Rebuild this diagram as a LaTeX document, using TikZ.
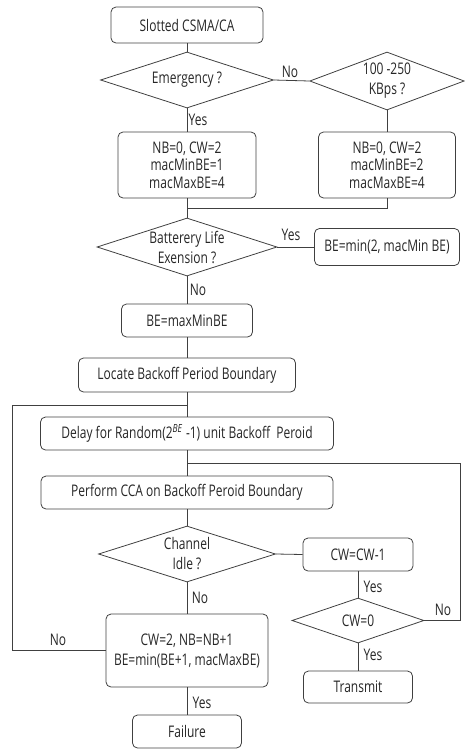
\documentclass[tikz,border=0pt]{standalone}
\usepackage{fontspec}
\setmainfont{Open Sans}[FakeStretch=0.75]
\usetikzlibrary{shapes.geometric}
\begin{document}
\begin{tikzpicture}[x=1pt, y=-1pt,
  font=\fontsize{16}{17.5}\selectfont,
  every node/.style={text=black!85},
  wire/.style={draw=black!75, line width=0.8pt},
  box/.style={wire, rectangle, rounded corners=5pt, inner sep=0pt, align=center},
  decide/.style={wire, diamond, inner sep=0pt, aspect=3, align=center},
  lbl/.style={inner sep=0pt},
  wide/.style={font=\fontsize{16}{20}\selectfont}]
\useasboundingbox (0,0) rectangle (464,750);

% main column
\node[box, minimum width=152, minimum height=36] (start) at (187,25) {Slotted CSMA/CA};
\node[decide, minimum width=173, minimum height=56] (emerg) at (187,80) {Emergency ?};
\node[decide, wide, minimum width=153, minimum height=58] (rate) at (387,81) {100 -250\\KBps ?};
\node[box, minimum width=138, minimum height=66] (init1) at (187,165)
  {NB=0, CW=2\\macMinBE=1\\macMaxBE=4};
\node[box, minimum width=137, minimum height=66] (init2) at (387,165)
  {NB=0, CW=2\\macMinBE=2\\macMaxBE=4};
\coordinate (join) at (187,208);
\node[decide, wide, minimum width=180, minimum height=58] (batt) at (187,247)
  {Batterery Life\\Exension ?};
\node[box, minimum width=145, minimum height=37] (bemin) at (387,247) {BE=min(2, macMin BE)};
\node[box, minimum width=131, minimum height=33] (bemax) at (187,320.5) {BE=maxMinBE};
\node[box, minimum width=217, minimum height=34] (locate) at (187,375) {Locate Backoff Period Boundary};
\node[box, minimum width=293, minimum height=33] (delay) at (187,433.5)
  {Delay for Random(2\textsuperscript{\textit{BE}} -1) unit Backoff~ Peroid};
\node[box, minimum width=292, minimum height=33] (cca) at (187,492.5) {Perform CCA on Backoff Peroid Boundary};
\node[decide, wide, minimum width=177, minimum height=56] (idle) at (187,554) {Channel\\Idle ?};
\node[box, minimum width=110, minimum height=33] (cwdec) at (358,554.5) {CW=CW-1};
\node[decide, minimum width=132, minimum height=45] (cwzero) at (358,620.5) {CW=0};
\node[box, wide, minimum width=162, minimum height=73] (retry) at (187,650.5)
  {CW=2, NB=NB+1\\BE=min(BE+1, macMaxBE)};
\node[box, minimum width=109, minimum height=33] (fail) at (187,731.5) {Failure};
\node[box, minimum width=109, minimum height=32] (tx) at (358,687) {Transmit};

\coordinate (loopL) at (12,405);
\coordinate (loopR) at (460,463);

% connectors
\draw[wire] (start) -- (emerg);
\draw[wire] (emerg.east) -- (rate.west);
\draw[wire] (emerg.south) -- (init1.north);
\draw[wire] (rate.south) -- (init2.north);
\draw[wire] (init1.south) -- (join);
\draw[wire] (init2.south) |- (join);
\draw[wire] (join) -- (batt.north);
\draw[wire] (batt.east) -- (bemin.west);
\draw[wire] (batt.south) -- (bemax.north);
\draw[wire] (bemax.south) -- (locate.north);
\draw[wire] (locate.south) -- (delay.north);
\draw[wire] (delay.south) -- (cca.north);
\draw[wire] (cca.south) -- (idle.north);
\draw[wire] (idle.east) -- (cwdec.west);
\draw[wire] (idle.south) -- (retry.north);
\draw[wire] (cwdec.south) -- (cwzero.north);
\draw[wire] (cwzero.south) -- (tx.north);
\draw[wire] (retry.south) -- (fail.north);
\draw[wire] (retry.west) -| (loopL) -- (loopL -| delay.north);
\draw[wire] (cwzero.east) -| (loopR) -- (loopR -| cca.north);

% branch labels
\node[lbl] (l1) at (290,72) {No};
\node[lbl] (l2) at (198,120) {Yes};
\node[lbl] (l3) at (291,235) {Yes};
\node[lbl] (l4) at (198,290) {No};
\node[lbl] (l5) at (200,598) {No};
\node[lbl] (l6) at (373,587) {Yes};
\node[lbl] (l7) at (443,610) {No};
\node[lbl] (l8) at (373,655) {Yes};
\node[lbl] (l9) at (202,703) {Yes};
\node[lbl] (l10) at (58,640) {No};
\end{tikzpicture}
\end{document}
